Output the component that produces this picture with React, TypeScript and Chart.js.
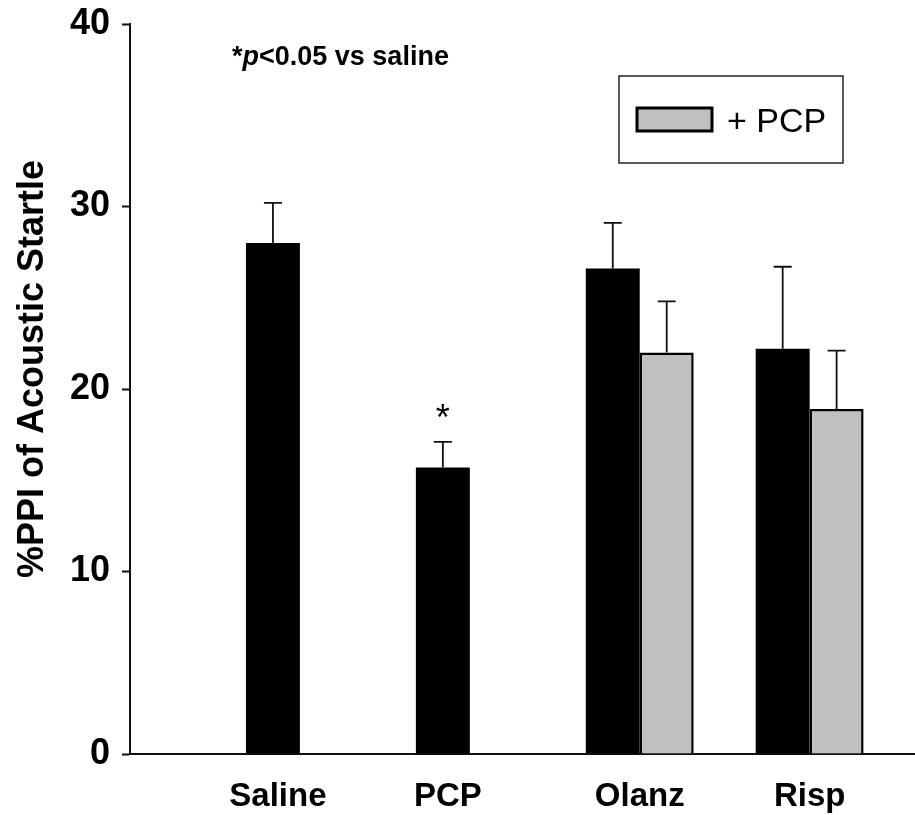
import React, { useEffect, useRef } from "react";
import { Chart, registerables } from "chart.js";

Chart.register(...registerables);

// ---- data ----
const categories = ["Saline", "PCP", "Olanz", "Risp"];
const vehicleMeans: (number | null)[] = [28.0, 15.7, 26.6, 22.2];
const vehicleSem: (number | null)[] = [2.2, 1.4, 2.5, 4.5];
const pcpMeans: (number | null)[] = [null, null, 22.0, 18.9];
const pcpSem: (number | null)[] = [null, null, 2.8, 3.2];
const significance = ["", "*", "", ""];
const yTicks = [0, 10, 20, 30, 40];
const yTitle = "%PPI of Acoustic Startle";
const legendLabel = "+ PCP";
const noteStar = "*";
const noteP = "p";
const noteRest = "<0.05 vs saline";

const FONT = '"Liberation Sans", Arial, sans-serif';
const INK = "#000";
const GRAY = "#c0c0c0";

const errorBarPlugin = {
  id: "errorBars",
  afterDatasetsDraw(chart: any) {
    const { ctx } = chart;
    const yScale = chart.scales.y;
    chart.data.datasets.forEach((ds: any, di: number) => {
      const meta = chart.getDatasetMeta(di);
      meta.data.forEach((bar: any, j: number) => {
        const mean = ds.means[j];
        const sem = ds.errors[j];
        if (mean == null || sem == null) return;
        const yTop = yScale.getPixelForValue(mean + sem);
        ctx.save();
        ctx.strokeStyle = "#111";
        ctx.lineWidth = 1.8;
        ctx.beginPath();
        ctx.moveTo(bar.x, bar.y);
        ctx.lineTo(bar.x, yTop);
        ctx.moveTo(bar.x - 9, yTop);
        ctx.lineTo(bar.x + 9, yTop);
        ctx.stroke();
        const mark = ds.sig ? ds.sig[j] : "";
        if (mark) {
          ctx.fillStyle = INK;
          ctx.font = `36px ${FONT}`;
          ctx.textAlign = "center";
          ctx.textBaseline = "alphabetic";
          ctx.fillText(mark, bar.x, yTop - 12);
        }
        ctx.restore();
      });
    });
  },
};

const decorPlugin = {
  id: "decor",
  afterDraw(chart: any) {
    const { ctx, chartArea } = chart;
    ctx.save();
    // x category labels
    ctx.fillStyle = INK;
    ctx.font = `bold 33px ${FONT}`;
    ctx.textAlign = "center";
    ctx.textBaseline = "alphabetic";
    categories.forEach((cat, j) => {
      const xs: number[] = [];
      chart.data.datasets.forEach((ds: any, di: number) => {
        if (ds.means[j] != null) xs.push(chart.getDatasetMeta(di).data[j].x);
      });
      const cx = xs.reduce((a, b) => a + b, 0) / xs.length;
      ctx.fillText(cat, cx + (xs.length === 1 ? 5 : 0), chartArea.bottom + 52);
    });

    // y title
    ctx.save();
    ctx.translate(33, (chartArea.top + chartArea.bottom) / 2 - 20);
    ctx.rotate(-Math.PI / 2);
    ctx.font = `bold 36px ${FONT}`;
    ctx.textAlign = "center";
    ctx.textBaseline = "middle";
    ctx.fillText(yTitle, 0, 0);
    ctx.restore();

    // significance note
    let nx = 232;
    const ny = 65;
    ctx.textAlign = "left";
    ctx.font = `bold 27px ${FONT}`;
    ctx.fillText(noteStar, nx, ny);
    nx += ctx.measureText(noteStar).width;
    ctx.font = `italic bold 27px ${FONT}`;
    ctx.fillText(noteP, nx, ny);
    nx += ctx.measureText(noteP).width;
    ctx.font = `bold 27px ${FONT}`;
    ctx.fillText(noteRest, nx, ny);

    // legend box
    const ds = chart.data.datasets[1];
    ctx.strokeStyle = "#222";
    ctx.lineWidth = 1.5;
    ctx.strokeRect(619, 76, 224, 87);
    ctx.fillStyle = ds.backgroundColor;
    ctx.fillRect(637, 108, 75, 23);
    ctx.strokeStyle = INK;
    ctx.lineWidth = 3;
    ctx.strokeRect(637, 108, 75, 23);
    ctx.fillStyle = INK;
    ctx.font = `34px ${FONT}`;
    ctx.textAlign = "left";
    ctx.textBaseline = "alphabetic";
    ctx.fillText(ds.label, 727, 132);
    ctx.restore();
  },
};

export default function App() {
  const canvasRef = useRef<HTMLCanvasElement | null>(null);

  useEffect(() => {
    if (!canvasRef.current) return;
    const xs = categories.map((_, i) => i + 1);
    const chart = new Chart(canvasRef.current, {
      type: "bar",
      data: {
        datasets: [
          {
            label: "Vehicle",
            data: xs.map((x, i) => ({ x, y: vehicleMeans[i] })) as any,
            backgroundColor: INK,
            borderColor: INK,
            borderWidth: 0,
            categoryPercentage: 0.635,
            barPercentage: 1,
            means: vehicleMeans,
            errors: vehicleSem,
            sig: significance,
          } as any,
          {
            label: legendLabel,
            data: xs.map((x, i) => ({ x, y: pcpMeans[i] })) as any,
            backgroundColor: GRAY,
            borderColor: INK,
            borderWidth: 2.5,
            categoryPercentage: 0.635,
            barPercentage: 1,
            means: pcpMeans,
            errors: pcpSem,
          } as any,
        ],
      },
      options: {
        animation: false,
        responsive: true,
        maintainAspectRatio: false,
        layout: { padding: { top: 24, right: 0, left: 0, bottom: 0 } },
        plugins: {
          legend: { display: false },
          tooltip: { enabled: false },
        },
        scales: {
          x: {
            type: "linear",
            offset: false,
            min: 0,
            max: 4.62,
            afterBuildTicks: (scale: any) => {
              scale.ticks = xs.map((v) => ({ value: v }));
            },
            afterFit: (scale: any) => {
              scale.height = 61;
              scale.paddingLeft = 0;
              scale.paddingRight = 0;
            },
            ticks: { display: false },
            grid: { display: true, drawOnChartArea: false, drawTicks: false, offset: false },
            border: { display: true, color: "#111", width: 2 },
          },
          y: {
            min: 0,
            max: 40,
            afterBuildTicks: (scale: any) => {
              scale.ticks = yTicks.map((v) => ({ value: v }));
            },
            afterFit: (scale: any) => {
              scale.width = 130;
              scale.paddingTop = 0;
              scale.paddingBottom = 0;
            },
            ticks: {
              color: INK,
              font: { family: FONT, size: 36, weight: "bold" },
              padding: 12,
            },
            grid: {
              display: true,
              drawOnChartArea: false,
              drawTicks: true,
              tickLength: 8,
              tickWidth: 2,
              tickColor: "#111",
            },
            border: { display: true, color: "#111", width: 2 },
          },
        },
      } as any,
      plugins: [errorBarPlugin, decorPlugin],
    });
    return () => chart.destroy();
  }, []);

  return (
    <div
      style={{
        position: "absolute",
        left: 0,
        top: 0,
        width: 915,
        height: 815,
        background: "#fff",
      }}
    >
      <canvas ref={canvasRef} />
    </div>
  );
}
